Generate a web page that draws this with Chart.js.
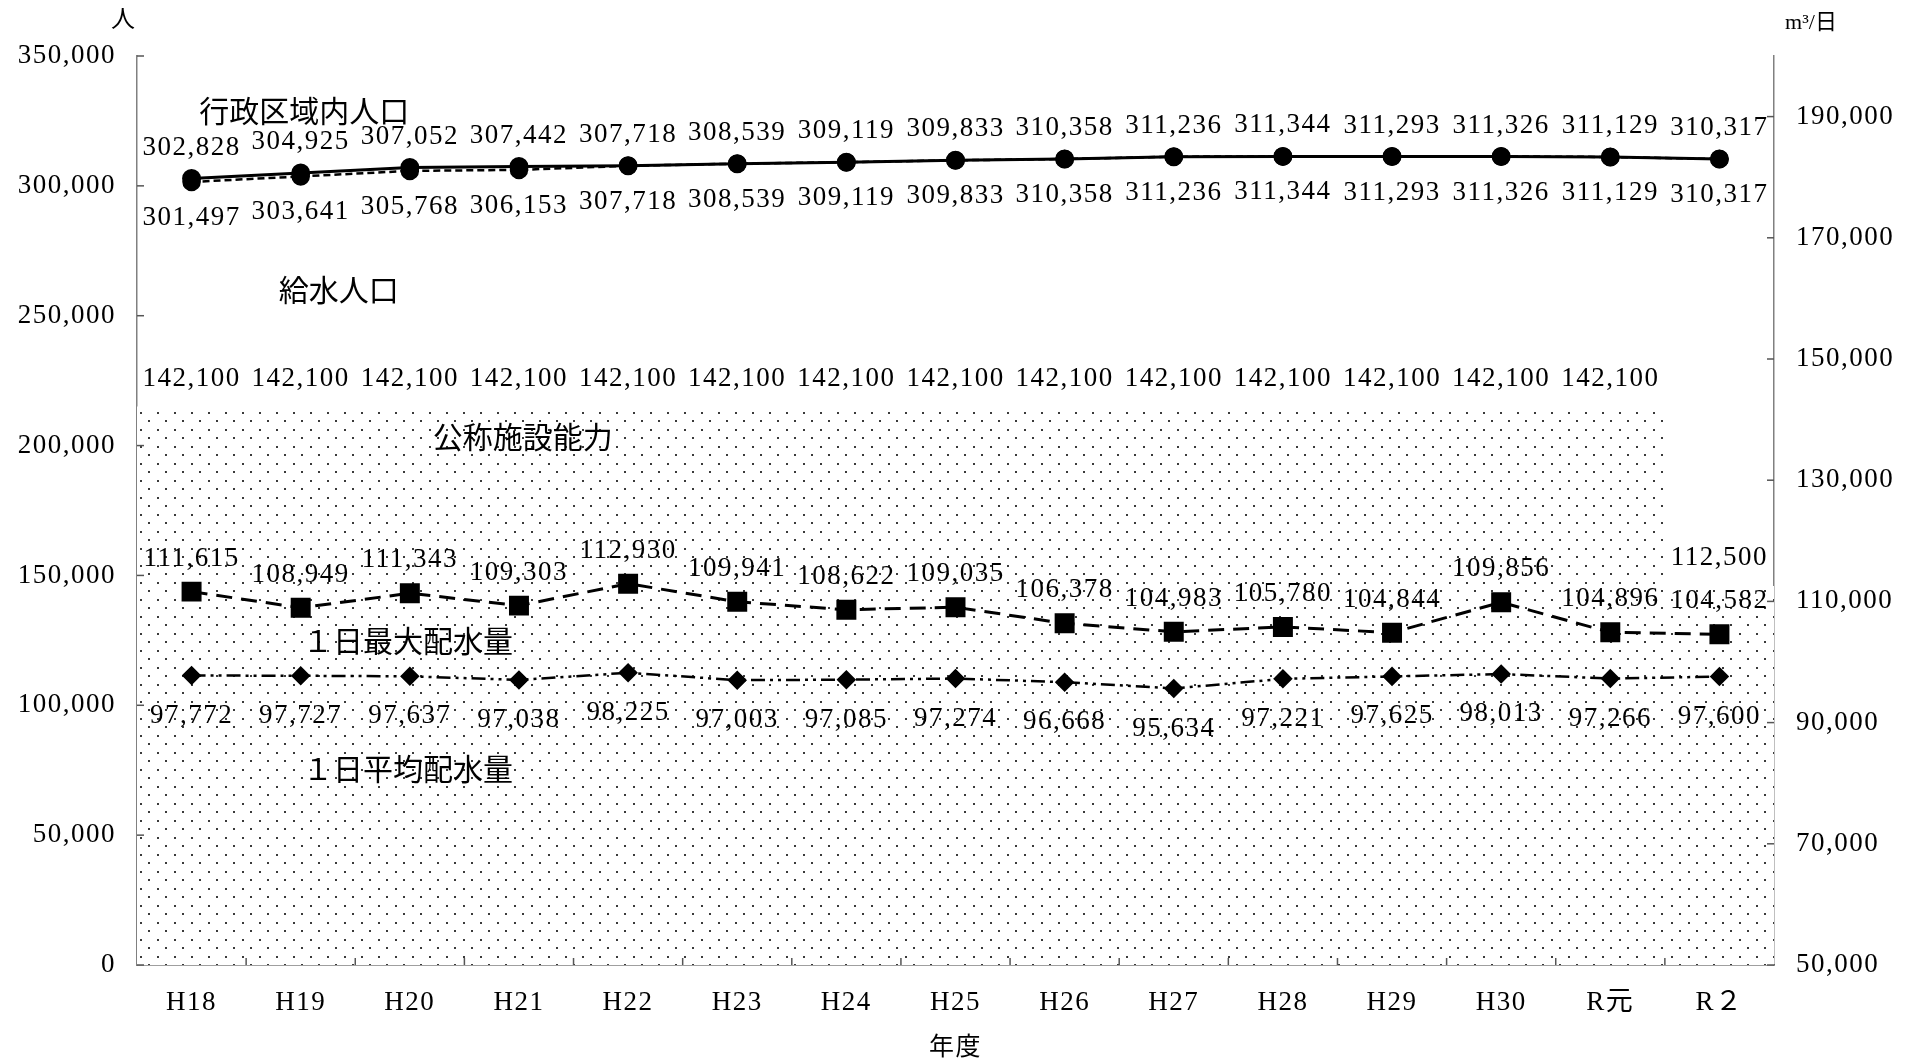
<!DOCTYPE html>
<html><head><meta charset="utf-8">
<script src="https://cdn.jsdelivr.net/npm/chart.js@4.4.0/dist/chart.umd.min.js"></script>
<style>html,body{margin:0;padding:0;background:#fff;}canvas{display:block;}</style>
</head><body>
<canvas id="c" width="1922" height="1063"></canvas>
<script>
// ---- data ----
const categories = ['H18','H19','H20','H21','H22','H23','H24','H25','H26','H27','H28','H29','H30','R元','R２'];
const adminPopulation = [302828,304925,307052,307442,307718,308539,309119,309833,310358,311236,311344,311293,311326,311129,310317];
const servedPopulation = [301497,303641,305768,306153,307718,308539,309119,309833,310358,311236,311344,311293,311326,311129,310317];
const ratedCapacity = [142100,142100,142100,142100,142100,142100,142100,142100,142100,142100,142100,142100,142100,142100,112500];
const maxDailyDistribution = [111615,108949,111343,109303,112930,109941,108622,109035,106378,104983,105780,104844,109856,104896,104582];
const avgDailyDistribution = [97772,97727,97637,97038,98225,97003,97085,97274,96668,95634,97221,97625,98013,97266,97600];
const leftTicks = [0,50000,100000,150000,200000,250000,300000,350000];
const rightTicks = [50000,70000,90000,110000,130000,150000,170000,190000];
const seriesNames = ['行政区域内人口','給水人口','公称施設能力','１日最大配水量','１日平均配水量'];
const leftUnit = '人';
const rightUnit = 'm³/日';
const xTitle = '年度';

// ---- styling ----
const NUM_FONT = '"Liberation Serif", "Noto Sans CJK JP", serif';
const CJK_FONT = '"Noto Sans CJK JP", sans-serif';
const NUM_SIZE = 27;
const fmt = v => Number(v).toLocaleString('en-US');

// series-name annotation anchors: fractional category index, left-axis value
const nameAnchors = [
  {xi: 0.07, yv: 329000},
  {xi: 0.80, yv: 260000},
  {xi: 2.21, yv: 203500},
  {xi: 1.02, yv: 124750},
  {xi: 1.02, yv: 75600}
];

function makeDotPattern(shift) {
  const c = document.createElement('canvas');
  c.width = 17; c.height = 17;
  const g = c.getContext('2d');
  g.fillStyle = '#fff'; g.fillRect(0,0,17,17);
  g.fillStyle = '#3a3a3a';
  g.fillRect(4+shift, 4, 2, 2);
  g.fillRect(12+shift, 12, 2, 2);
  return g.createPattern(c, 'repeat');
}
const pat1 = makeDotPattern(0);
const pat2 = makeDotPattern(1);

const decorPlugin = {
  id: 'decor',
  beforeDraw(chart) {
    chart.ctx.letterSpacing = '1.5px';
  },
  afterDatasetsDraw(chart) {
    const {ctx, chartArea: a, scales: {x, y, y2}} = chart;
    ctx.save();
    // inward tick marks
    ctx.strokeStyle = '#555'; ctx.lineWidth = 1.5;
    const line = (x1,y1,x2,y2_) => { ctx.beginPath(); ctx.moveTo(x1,y1); ctx.lineTo(x2,y2_); ctx.stroke(); };
    y.ticks.forEach(t => { const p = y.getPixelForValue(t.value); line(a.left, p, a.left + 7, p); });
    y2.ticks.forEach(t => { const p = y2.getPixelForValue(t.value); line(a.right - 7, p, a.right, p); });
    for (let i = 1; i < categories.length; i++) {
      const p = (x.getPixelForValue(i - 1) + x.getPixelForValue(i)) / 2;
      line(p, a.bottom, p, a.bottom - 7);
    }
    // data labels
    ctx.fillStyle = '#000';
    ctx.letterSpacing = '1.5px';
    ctx.font = NUM_SIZE + 'px ' + NUM_FONT;
    ctx.textAlign = 'center'; ctx.textBaseline = 'middle';
    chart.data.datasets.forEach((ds, i) => {
      if (ds.labelDy === undefined) return;
      const meta = chart.getDatasetMeta(i);
      meta.data.forEach((el, j) => {
        ctx.fillText(fmt(ds.data[j]), el.x + (ds.labelDx || 0), el.y + ds.labelDy);
      });
    });
    // series names
    ctx.letterSpacing = '0px';
    ctx.font = '30px ' + CJK_FONT;
    ctx.textAlign = 'left';
    const x0 = x.getPixelForValue(0), x1 = x.getPixelForValue(1);
    seriesNames.forEach((n, k) => {
      const an = nameAnchors[k];
      ctx.fillText(n, x0 + an.xi * (x1 - x0), y.getPixelForValue(an.yv));
    });
    // units
    ctx.textAlign = 'center';
    ctx.font = '24px ' + CJK_FONT;
    ctx.fillText(leftUnit, a.left - 14, a.top - 38);
    ctx.font = '22px ' + NUM_FONT;
    ctx.fillText(rightUnit, a.right + 37, a.top - 33);
    ctx.restore();
    ctx.letterSpacing = '1.5px';
  }
};

new Chart(document.getElementById('c'), {
  data: {
    labels: categories,
    datasets: [
      {type:'line', label: seriesNames[0], data: adminPopulation, yAxisID:'y', order:1,
       borderColor:'#000', borderWidth:3, pointStyle:'circle', pointRadius:8, pointBackgroundColor:'#000', pointBorderColor:'#000',
       tension:0, fill:false, labelDy:-31},
      {type:'line', label: seriesNames[1], data: servedPopulation, yAxisID:'y', order:2,
       borderColor:'#000', borderWidth:2.5, borderDash:[7,4], pointStyle:'circle', pointRadius:8, pointBackgroundColor:'#000', pointBorderColor:'#000',
       tension:0, fill:false, labelDy:36},
      {type:'line', label: seriesNames[3], data: maxDailyDistribution, yAxisID:'y2', order:3,
       borderColor:'#000', borderWidth:3, borderDash:[16,9], pointStyle:'rect', pointRadius:12, pointBackgroundColor:'#000', pointBorderColor:'#000',
       tension:0, fill:false, labelDy:-33},
      {type:'line', label: seriesNames[4], data: avgDailyDistribution, yAxisID:'y2', order:4,
       borderColor:'#000', borderWidth:2.5, borderDash:[14,5,3,5,3,5], pointStyle:'rectRot', pointRadius:8, pointBackgroundColor:'#000', pointBorderColor:'#000',
       tension:0, fill:false, labelDy:40},
      {type:'bar', label: seriesNames[2], data: ratedCapacity, yAxisID:'y2', order:10,
       backgroundColor: ratedCapacity.map((v,i) => i === ratedCapacity.length - 1 ? pat2 : pat1),
       borderWidth:0, barPercentage:1, categoryPercentage:1, labelDy:-28}
    ]
  },
  options: {
    responsive:false, animation:false, devicePixelRatio:1,
    layout:{padding:{top:56, left:0, right:0, bottom:0}},
    plugins:{legend:{display:false}, tooltip:{enabled:false}, title:{display:false}},
    scales:{
      x:{type:'category', offset:true,
         grid:{display:true, offset:true, drawOnChartArea:false, drawTicks:false},
         border:{display:true, color:'#404040', width:1.5},
         ticks:{font:{family:NUM_FONT, size:NUM_SIZE}, color:'#000', padding:22, maxRotation:0, autoSkip:false},
         title:{display:true, text:xTitle, font:{family:CJK_FONT, size:25}, color:'#000', padding:{top:0, bottom:3}},
         afterFit: s => { s.height = 98; }},
      y:{type:'linear', position:'left', min:0, max:350000,
         ticks:{stepSize:50000, callback:v => fmt(v), font:{family:NUM_FONT, size:NUM_SIZE}, color:'#000', padding:21},
         afterBuildTicks: s => { s.ticks = leftTicks.map(v => ({value:v})); },
         afterFit: s => { s.width = 137; },
         grid:{display:true, drawOnChartArea:false, drawTicks:false},
         border:{display:true, color:'#808080', width:1.5}},
      y2:{type:'linear', position:'right', min:50000, max:200000,
         ticks:{callback:v => fmt(v), font:{family:NUM_FONT, size:NUM_SIZE}, color:'#000', padding:22},
         afterBuildTicks: s => { s.ticks = rightTicks.map(v => ({value:v})); },
         afterFit: s => { s.width = 148; },
         grid:{display:true, drawOnChartArea:false, drawTicks:false},
         border:{display:true, color:'#808080', width:1.5}}
    }
  },
  plugins:[decorPlugin]
});
</script>
</body></html>
